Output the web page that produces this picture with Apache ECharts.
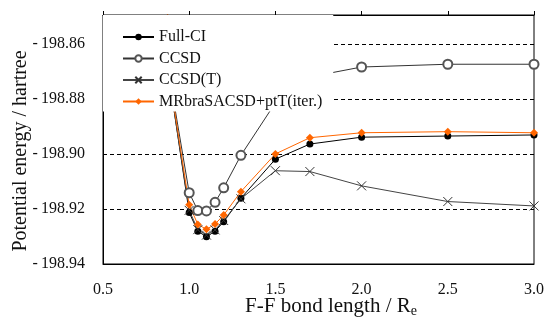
<!DOCTYPE html>
<html>
<head>
<meta charset="utf-8">
<script src="https://cdn.jsdelivr.net/npm/echarts@6/dist/echarts.min.js"></script>
<style>
  html, body { margin: 0; padding: 0; background: #fff; }
  #chart { width: 547px; height: 320px; }
</style>
</head>
<body>
<div id="chart"></div>
<script>
// F-F bond length (in units of Re) and potential energies (hartree)
const bondLength = [0.8, 0.9, 1.0, 1.05, 1.1, 1.15, 1.2, 1.3, 1.5, 1.7, 2.0, 2.5, 3.0];
const fullCI = [-198.765, -198.879, -198.9213, -198.9281, -198.9301, -198.9281, -198.9246, -198.9161, -198.9019, -198.8964, -198.8939, -198.8935, -198.8931];
const ccsd = [-198.765, -198.877, -198.9141, -198.9206, -198.9207, -198.9176, -198.9123, -198.9005, -198.8814, -198.8720, -198.8684, -198.8674, -198.8674];
const ccsdT = [-198.765, -198.879, -198.9205, -198.9275, -198.9295, -198.9276, -198.9242, -198.9163, -198.9061, -198.9064, -198.9116, -198.9173, -198.9189];
const mrSacsd = [-198.764, -198.878, -198.9185, -198.9256, -198.9274, -198.9255, -198.9222, -198.9137, -198.9000, -198.8941, -198.8923, -198.8919, -198.8923];

const xTicks = [0.5, 1.0, 1.5, 2.0, 2.5, 3.0];
const yTicks = [-198.94, -198.92, -198.90, -198.88, -198.86];

const FONT = "'Liberation Serif', 'Times New Roman', serif";
const pairs = (arr) => bondLength.map((r, i) => [r, arr[i]]);
const labelRich = { t: { fontFamily: FONT, fontSize: 16, color: '#111' } };

const chart = echarts.init(document.getElementById('chart'), null, { renderer: 'canvas' });

const options = {
  animation: false,
  textStyle: { fontFamily: FONT },
  grid: {
    left: 103, right: 8, top: 15, bottom: 56,
    show: true, borderColor: '#000', borderWidth: 1,
  },
  legend: {
    orient: 'vertical',
    left: 103, top: 15,
    z: 10,
    backgroundColor: '#fff',
    padding: [14, 11, 2, 19],
    itemWidth: 31, itemHeight: 8, itemGap: 5.5,
    textStyle: { fontFamily: FONT, fontSize: 16, color: '#111', lineHeight: 16 },
    data: ['Full-CI', 'CCSD', 'CCSD(T)', 'MRbraSACSD+ptT(iter.)'],
  },
  xAxis: [
    {
      type: 'value', position: 'bottom',
      min: xTicks[0], max: xTicks[xTicks.length - 1], interval: 0.5,
      axisLine: { show: true, lineStyle: { color: '#000' } },
      axisTick: { show: false },
      splitLine: { show: false },
      axisLabel: {
        margin: 18, fontFamily: FONT, fontSize: 16, color: '#111',
        rich: labelRich,
        formatter: (v) => '{t|' + v.toFixed(1) + '}',
      },
    },
    {
      type: 'value', position: 'top',
      min: xTicks[0], max: xTicks[xTicks.length - 1], interval: 0.5,
      axisLine: { show: true, lineStyle: { color: '#000' } },
      axisTick: { show: true, inside: false, length: 4, lineStyle: { color: '#000' } },
      splitLine: { show: false },
      axisLabel: { show: false },
    },
  ],
  yAxis: {
    type: 'value',
    min: yTicks[0], max: -198.8495, interval: 0.02,
    axisLine: { show: true, lineStyle: { color: '#000' } },
    axisTick: { show: true, inside: true, length: 4, lineStyle: { color: '#000' } },
    splitLine: { show: true, lineStyle: { color: '#000', type: [4, 3], width: 1 } },
    axisLabel: {
      margin: 18, fontFamily: FONT, fontSize: 16, color: '#111',
      showMaxLabel: false,
      rich: labelRich,
      formatter: (v) => (yTicks.some((t) => Math.abs(t - v) < 1e-6) ? '{t|-\u2009' + Math.abs(v).toFixed(2) + '}' : ''),
    },
  },
  graphic: [
    {
      type: 'text', x: 21, y: 151, rotation: Math.PI / 2,
      style: {
        text: '{m|Potential energy / hartree}', align: 'center', verticalAlign: 'middle',
        rich: { m: { fontFamily: FONT, fontSize: 20, fill: '#111' } },
      },
    },
    {
      type: 'text', x: 331, y: 306,
      style: {
        text: '{m|F-F bond length / R}{s|e}',
        align: 'center', verticalAlign: 'middle', fill: '#111',
        rich: {
          m: { fontFamily: FONT, fontSize: 21, lineHeight: 24, fill: '#111' },
          s: { fontFamily: FONT, fontSize: 14, lineHeight: 10, verticalAlign: 'bottom', fill: '#111' },
        },
      },
    },
  ],
  series: [
    {
      name: 'Full-CI', type: 'line', data: pairs(fullCI),
      symbol: 'circle', symbolSize: 7, clip: true,
      lineStyle: { color: '#000', width: 1 },
      itemStyle: { color: '#000' },
    },
    {
      name: 'CCSD', type: 'line', data: pairs(ccsd),
      symbol: 'emptyCircle', symbolSize: 9, clip: true,
      lineStyle: { color: '#333', width: 1 },
      itemStyle: { color: '#555', borderWidth: 1 },
    },
    {
      name: 'CCSD(T)', type: 'line', data: pairs(ccsdT),
      symbol: 'path://M0,0L10,10M10,0L0,10', symbolSize: 9, clip: true,
      lineStyle: { color: '#444', width: 1 },
      itemStyle: { color: 'none', borderColor: '#333', borderWidth: 1 },
    },
    {
      name: 'MRbraSACSD+ptT(iter.)', type: 'line', data: pairs(mrSacsd),
      symbol: 'diamond', symbolSize: 8, clip: true,
      lineStyle: { color: '#ff6600', width: 1 },
      itemStyle: { color: '#ff6600' },
    },
  ],
};

chart.setOption(options);
</script>
</body>
</html>
